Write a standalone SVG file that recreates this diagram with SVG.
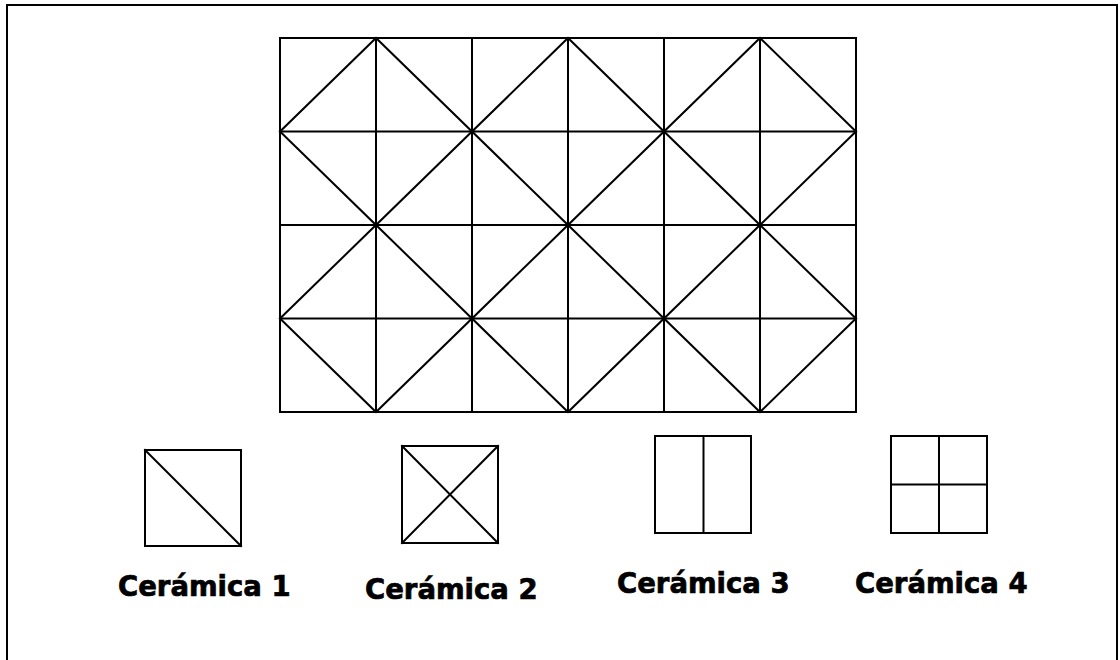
<svg xmlns="http://www.w3.org/2000/svg" width="1120" height="660" viewBox="0 0 1120 660">
<style>
.ln{stroke:#000;stroke-width:2;fill:none;stroke-linecap:square}
.lbl{font-family:"DejaVu Sans",Verdana,sans-serif;font-weight:bold;font-size:27.5px;fill:#000;stroke:#000;stroke-width:0.7}
</style>
<rect width="1120" height="660" fill="#fff"/>
<path class="ln" d="M7,660 V5 H1117 V660"/>
<g id="mosaic">
<rect class="ln" x="280" y="38" width="576" height="374"/>
<path class="ln" d="M376,38V412 M472,38V412 M568,38V412 M664,38V412 M760,38V412 M280,131.5H856 M280,225H856 M280,318.5H856"/>
<path class="ln" d="M280,131.5 L376,38 L472,131.5 L568,38 L664,131.5 L760,38 L856,131.5"/>
<path class="ln" d="M280,131.5 L376,225 L472,131.5 L568,225 L664,131.5 L760,225 L856,131.5"/>
<path class="ln" d="M280,318.5 L376,225 L472,318.5 L568,225 L664,318.5 L760,225 L856,318.5"/>
<path class="ln" d="M280,318.5 L376,412 L472,318.5 L568,412 L664,318.5 L760,412 L856,318.5"/>
</g>
<g id="ceramica1">
<rect class="ln" x="145" y="450" width="96" height="96"/>
<path class="ln" d="M145,450 L241,546"/>
<text class="lbl" x="118" y="596">Cerámica 1</text>
</g>
<g id="ceramica2">
<rect class="ln" x="402" y="446" width="96" height="97"/>
<path class="ln" d="M402,446 L498,543 M498,446 L402,543"/>
<text class="lbl" x="365" y="599">Cerámica 2</text>
</g>
<g id="ceramica3">
<rect class="ln" x="655" y="436" width="96" height="97"/>
<path class="ln" d="M703.5,436 V533"/>
<text class="lbl" x="617" y="593">Cerámica 3</text>
</g>
<g id="ceramica4">
<rect class="ln" x="891" y="436" width="96" height="97"/>
<path class="ln" d="M939,436 V533 M891,484.5 H987"/>
<text class="lbl" x="855" y="593">Cerámica 4</text>
</g>
</svg>
